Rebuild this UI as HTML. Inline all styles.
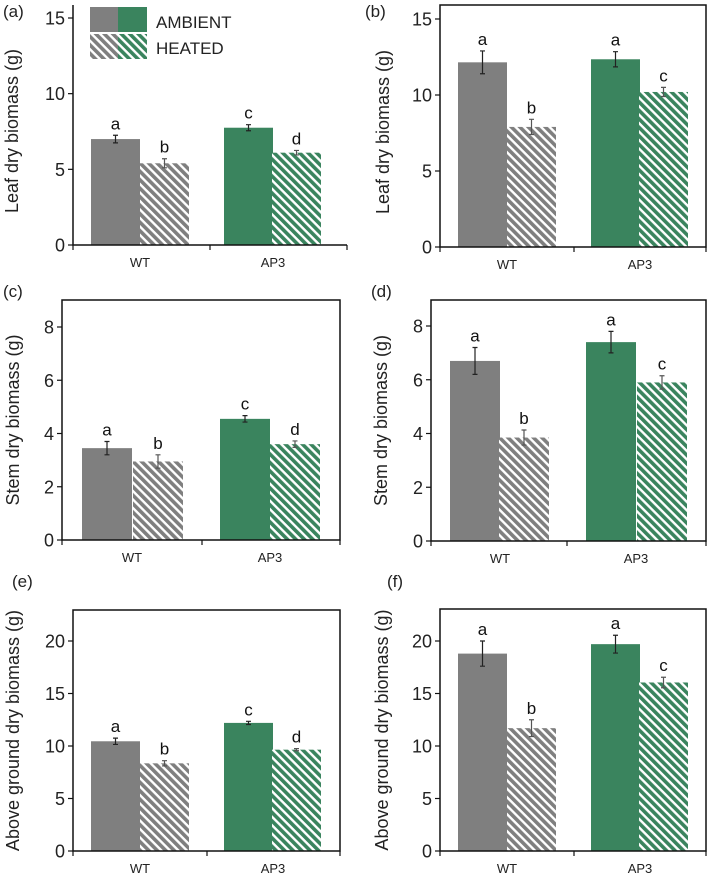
<!DOCTYPE html>
<html><head><meta charset="utf-8"><style>
html,body{margin:0;padding:0;background:#fff}
svg{display:block;font-family:"Liberation Sans",Arial,sans-serif}
</style></head><body>
<svg id="fig" width="709" height="875" viewBox="0 0 709 875">
<defs>
<pattern id="hatchGray" width="6" height="6" patternUnits="userSpaceOnUse" patternTransform="rotate(-45)">
<rect width="6" height="6" fill="#fff"/><rect width="3.6" height="6" fill="#7f7f7f"/></pattern>
<pattern id="hatchGreen" width="6" height="6" patternUnits="userSpaceOnUse" patternTransform="rotate(-45)">
<rect width="6" height="6" fill="#fff"/><rect width="3.6" height="6" fill="#3a845e"/></pattern>
</defs>
</svg>
<script>
// ---- data ----
const categories = ["WT","AP3"];
const treatments = ["AMBIENT","HEATED"];
const leafA = [7.0, 5.4, 7.75, 6.1];
const leafAErr = [0.25, 0.3, 0.2, 0.15];
const leafALetters = ["a","b","c","d"];
const leafB = [12.15, 7.9, 12.35, 10.2];
const leafBErr = [0.75, 0.5, 0.5, 0.3];
const leafBLetters = ["a","b","a","c"];
const stemC = [3.45, 2.95, 4.55, 3.6];
const stemCErr = [0.25, 0.25, 0.12, 0.12];
const stemCLetters = ["a","b","c","d"];
const stemD = [6.7, 3.85, 7.4, 5.9];
const stemDErr = [0.5, 0.28, 0.4, 0.25];
const stemDLetters = ["a","b","a","c"];
const aboveE = [10.45, 8.35, 12.2, 9.65];
const aboveEErr = [0.3, 0.25, 0.15, 0.1];
const aboveELetters = ["a","b","c","d"];
const aboveF = [18.8, 11.7, 19.7, 16.05];
const aboveFErr = [1.2, 0.8, 0.85, 0.5];
const aboveFLetters = ["a","b","a","c"];
const leafTicks = [0,5,10,15];
const stemTicks = [0,2,4,6,8];
const aboveTicks = [0,5,10,15,20];

const NS="http://www.w3.org/2000/svg";
const svg=document.getElementById('fig');
function mk(tag,attrs,parent){const e=document.createElementNS(NS,tag);for(const k in attrs)e.setAttribute(k,attrs[k]);(parent||svg).appendChild(e);return e;}

const panels=[
 {id:"a",vals:leafA,err:leafAErr,let:leafALetters,ticks:leafTicks,title:"Leaf dry biomass (g)",L:73,R:347,B:245,T:5,yTickPx:18,tickVal:15,box:false,lab:[3,17],tx:12,bars:[91,140,224,272],bw:49,mid:210},
 {id:"b",vals:leafB,err:leafBErr,let:leafBLetters,ticks:leafTicks,title:"Leaf dry biomass (g)",L:440,R:706,B:247,T:5,yTickPx:19,tickVal:15,box:true,lab:[365,17],tx:383,bars:[458,507,591,639],bw:49,mid:574},
 {id:"c",vals:stemC,err:stemCErr,let:stemCLetters,ticks:stemTicks,title:"Stem dry biomass (g)",L:62,R:340,B:540,T:300,yTickPx:327,tickVal:8,box:true,lab:[3,297],tx:13,bars:[82,133,220,270],bw:50,mid:202},
 {id:"d",vals:stemD,err:stemDErr,let:stemDLetters,ticks:stemTicks,title:"Stem dry biomass (g)",L:431,R:706,B:541,T:300,yTickPx:326,tickVal:8,box:true,lab:[371,297],tx:381,bars:[450,499,586,637],bw:50,mid:567},
 {id:"e",vals:aboveE,err:aboveEErr,let:aboveELetters,ticks:aboveTicks,title:"Above ground dry biomass (g)",L:73,R:340,B:851,T:610,yTickPx:641,tickVal:20,box:true,lab:[12,587],tx:13,bars:[91,140,224,272],bw:49,mid:207},
 {id:"f",vals:aboveF,err:aboveFErr,let:aboveFLetters,ticks:aboveTicks,title:"Above ground dry biomass (g)",L:440,R:706,B:851,T:609,yTickPx:641,tickVal:20,box:true,lab:[387,587],tx:382,bars:[458,507,591,639],bw:49,mid:574}
];
const fills=["#7f7f7f","url(#hatchGray)","#3a845e","url(#hatchGreen)"];

panels.forEach(p=>{
  const g=mk('g',{});
  
  
  const scale=(p.B-p.yTickPx)/p.tickVal;
  const y=v=>p.B-v*scale;
  p.vals.forEach((v,i)=>{
    const r=mk('rect',{x:p.bars[i],y:y(v),width:p.bw,height:p.B-y(v),fill:fills[i]},g);
    
    
    const cx=p.bars[i]+p.bw/2, e=p.err[i], col=i%2?"#555":"#222";
    const eb=mk('path',{d:`M${cx},${y(v+e)}V${y(v-e)}M${cx-2.5},${y(v+e)}h5M${cx-2.5},${y(v-e)}h5`,stroke:col,'stroke-width':1.2,fill:'none'},g);
    
    
    const t=mk('text',{x:cx,y:y(v+e)-6,'text-anchor':'middle','font-size':17,fill:'#111'},g);
    t.textContent=p.let[i];
    
    
  });
  const ax=mk('path',{d:p.box?`M${p.L},${p.T}H${p.R}V${p.B}H${p.L}Z`:`M${p.L},${p.T}V${p.B}H${p.R}`,stroke:'#111','stroke-width':1.5,fill:'none'},g);
  
  
  p.ticks.forEach(tv=>{
    mk('line',{x1:p.L-5,x2:p.L,y1:y(tv),y2:y(tv),stroke:'#111','stroke-width':1.2},g);
    const t=mk('text',{x:p.L-8,y:y(tv)+6.5,'text-anchor':'end','font-size':18,fill:'#222'},g);
    t.textContent=tv;
    
    
  });
  [p.L,p.mid,p.R].forEach(xx=>mk('line',{x1:xx,x2:xx,y1:p.B,y2:p.B+5,stroke:'#111','stroke-width':1.2},g));
  categories.forEach((c,k)=>{
    const cx=p.bars[k*2]+p.bw;
    const t=mk('text',{x:cx,y:p.B+22,'text-anchor':'middle','font-size':13,fill:'#222'},g);
    t.textContent=c;
    
    
  });
  const cy=(p.T+p.B)/2+(p.id==='a'||p.id==='b'?6:0);
  const yt=mk('text',{x:p.tx,y:cy,'text-anchor':'middle','font-size':18,fill:'#222',transform:`rotate(-90 ${p.tx} ${cy})`,'dominant-baseline':'central'},g);
  yt.textContent=p.title;
  
  
  const pl=mk('text',{x:p.lab[0],y:p.lab[1],'font-size':17,fill:'#222'},g);
  pl.textContent='('+p.id+')';
  
  
});

const lg=mk('g',{});


mk('rect',{x:90,y:7,width:28,height:25,fill:'#7f7f7f'},lg);
mk('rect',{x:118,y:7,width:29,height:25,fill:'#3a845e'},lg);
mk('rect',{x:90,y:34,width:28,height:25,fill:'url(#hatchGray)'},lg);
mk('rect',{x:118,y:34,width:29,height:25,fill:'url(#hatchGreen)'},lg);
const l1=mk('text',{x:156,y:28,'font-size':17,fill:'#222'},lg);
l1.textContent='AMBIENT';


const l2=mk('text',{x:156,y:54,'font-size':17,fill:'#222'},lg);
l2.textContent='HEATED';


</script>
</body></html>
